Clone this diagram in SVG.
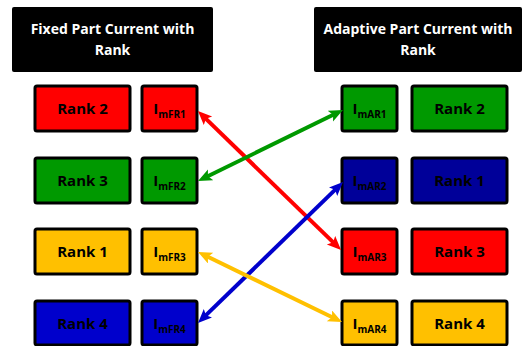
<svg xmlns="http://www.w3.org/2000/svg" width="528" height="346" viewBox="0 0 528 346">
<style>
.hdr{fill:#000;stroke:none}
.ht{font-family:"Open Sans","Liberation Sans",sans-serif;font-weight:bold;font-size:14px;fill:#fff;text-anchor:middle}
.box{stroke:#000;stroke-width:3}
.t{font-family:"Open Sans","Liberation Sans",sans-serif;font-weight:bold;font-size:15px;fill:#000;text-anchor:middle}
.sub{font-size:10px}
.red{fill:#FF0000}.grn{fill:#009900}.blu{fill:#0000CC}.nav{fill:#000099}.yel{fill:#FFC000}
.ln{stroke-width:4;fill:none}
</style>
<defs>
<marker id="aR" markerUnits="userSpaceOnUse" markerWidth="16" markerHeight="14" refX="6" refY="6" orient="auto-start-reverse"><path d="M0,0 L14,6 L0,12 L3,6 z" fill="#FF0000"/></marker>
<marker id="aG" markerUnits="userSpaceOnUse" markerWidth="16" markerHeight="14" refX="6" refY="6" orient="auto-start-reverse"><path d="M0,0 L14,6 L0,12 L3,6 z" fill="#009900"/></marker>
<marker id="aB" markerUnits="userSpaceOnUse" markerWidth="16" markerHeight="14" refX="6" refY="6" orient="auto-start-reverse"><path d="M0,0 L14,6 L0,12 L3,6 z" fill="#0000CC"/></marker>
<marker id="aY" markerUnits="userSpaceOnUse" markerWidth="16" markerHeight="14" refX="6" refY="6" orient="auto-start-reverse"><path d="M0,0 L14,6 L0,12 L3,6 z" fill="#FFC000"/></marker>
</defs>

<g id="hdrFixed">
<rect class="hdr" x="12" y="7" width="201" height="65" rx="2"/>
<text class="ht" x="112.5" y="34">Fixed Part Current with</text>
<text class="ht" x="112.5" y="55">Rank</text>
</g>
<g id="hdrAdaptive">
<rect class="hdr" x="314" y="7" width="208" height="65" rx="2"/>
<text class="ht" x="418" y="34">Adaptive Part Current with</text>
<text class="ht" x="418" y="55">Rank</text>
</g>

<g id="fRank2"><rect class="box red" x="35" y="86" width="95" height="45" rx="2"/><text class="t" x="82.5" y="114">Rank 2</text></g>
<g id="fRank3"><rect class="box grn" x="35" y="158" width="95" height="45" rx="2"/><text class="t" x="82.5" y="186">Rank 3</text></g>
<g id="fRank1"><rect class="box yel" x="35" y="229" width="95" height="45" rx="2"/><text class="t" x="82.5" y="257">Rank 1</text></g>
<g id="fRank4"><rect class="box blu" x="35" y="301" width="95" height="44" rx="2"/><text class="t" x="82.5" y="329">Rank 4</text></g>

<g id="ImFR1"><rect class="box red" x="142" y="86" width="55" height="45" rx="2"/><text class="t" x="169.5" y="114">I<tspan class="sub" dy="4">mFR1</tspan></text></g>
<g id="ImFR2"><rect class="box grn" x="142" y="158" width="55" height="45" rx="2"/><text class="t" x="169.5" y="186">I<tspan class="sub" dy="4">mFR2</tspan></text></g>
<g id="ImFR3"><rect class="box yel" x="142" y="229" width="55" height="45" rx="2"/><text class="t" x="169.5" y="257">I<tspan class="sub" dy="4">mFR3</tspan></text></g>
<g id="ImFR4"><rect class="box blu" x="142" y="301" width="55" height="44" rx="2"/><text class="t" x="169.5" y="329">I<tspan class="sub" dy="4">mFR4</tspan></text></g>

<g id="ImAR1"><rect class="box grn" x="342" y="86" width="55" height="45" rx="2"/><text class="t" x="369.5" y="114">I<tspan class="sub" dy="4">mAR1</tspan></text></g>
<g id="ImAR2"><rect class="box nav" x="342" y="158" width="55" height="45" rx="2"/><text class="t" x="369.5" y="186">I<tspan class="sub" dy="4">mAR2</tspan></text></g>
<g id="ImAR3"><rect class="box red" x="342" y="229" width="55" height="45" rx="2"/><text class="t" x="369.5" y="257">I<tspan class="sub" dy="4">mAR3</tspan></text></g>
<g id="ImAR4"><rect class="box yel" x="342" y="301" width="55" height="44" rx="2"/><text class="t" x="369.5" y="329">I<tspan class="sub" dy="4">mAR4</tspan></text></g>

<g id="aRank2"><rect class="box grn" x="412" y="86" width="95" height="45" rx="2"/><text class="t" x="459.5" y="114">Rank 2</text></g>
<g id="aRank1"><rect class="box nav" x="412" y="158" width="95" height="45" rx="2"/><text class="t" x="459.5" y="186">Rank 1</text></g>
<g id="aRank3"><rect class="box red" x="412" y="229" width="95" height="45" rx="2"/><text class="t" x="459.5" y="257">Rank 3</text></g>
<g id="aRank4"><rect class="box yel" x="412" y="301" width="95" height="44" rx="2"/><text class="t" x="459.5" y="329">Rank 4</text></g>

<g id="connectors">
<line class="ln" x1="203.7" y1="116.6" x2="335.3" y2="244.4" stroke="#FF0000" marker-start="url(#aR)" marker-end="url(#aR)"/>
<line class="ln" x1="335.8" y1="113.5" x2="205.2" y2="177.5" stroke="#009900" marker-start="url(#aG)" marker-end="url(#aG)"/>
<line class="ln" x1="337.3" y1="187.6" x2="203.7" y2="317.4" stroke="#0000CC" marker-start="url(#aB)" marker-end="url(#aB)"/>
<line class="ln" x1="205.2" y1="255.5" x2="334.8" y2="318.5" stroke="#FFC000" marker-start="url(#aY)" marker-end="url(#aY)"/>
</g>
</svg>
